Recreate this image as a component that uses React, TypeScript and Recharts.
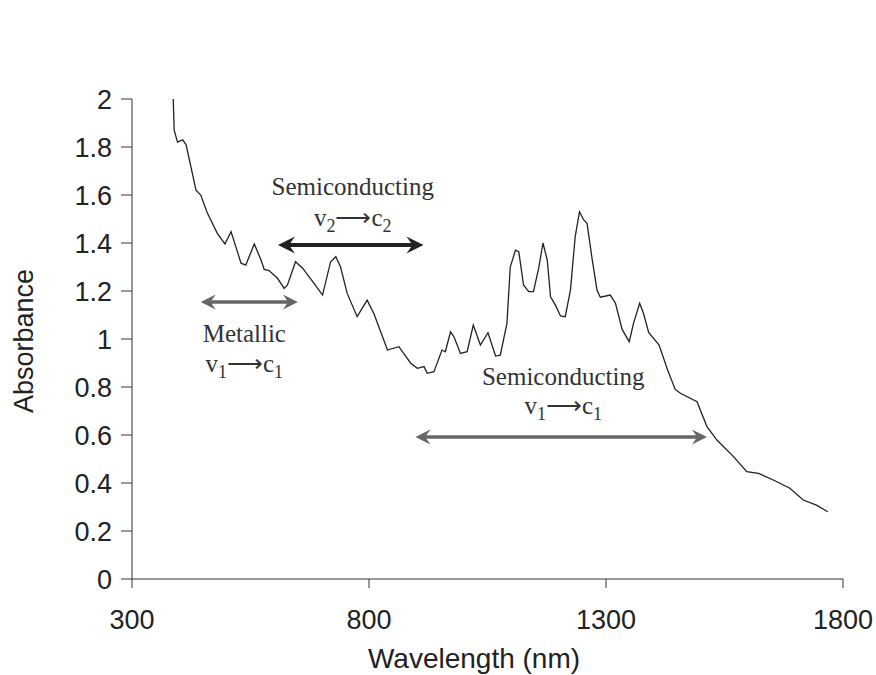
import { LineChart, Line, XAxis, YAxis, ReferenceLine, Label } from 'recharts';

// wavelength (nm)
const wavelengths = [
  387, 389, 396, 407, 414, 424, 435, 445, 459, 480,
  496, 509, 519, 530, 540, 558, 572, 579, 589, 607,
  621, 628, 645, 660, 684, 702, 719, 730, 740, 754,
  775, 796, 810, 839, 863, 888, 902, 916, 923, 937,
  954, 961, 972, 979, 993, 1007, 1020, 1035, 1051, 1067,
  1077, 1091, 1098, 1109, 1116, 1126, 1137, 1147, 1158, 1167,
  1176, 1183, 1193, 1204, 1214, 1225, 1235, 1244, 1253, 1260,
  1270, 1281, 1288, 1309, 1320, 1334, 1349, 1358, 1371, 1379,
  1390, 1412, 1430, 1446, 1457, 1492, 1513, 1534, 1569, 1597,
  1622, 1653, 1688, 1716, 1744, 1768,
];

const absorbance = [
  2.0, 1.87, 1.82, 1.83, 1.81, 1.72, 1.62, 1.6, 1.525, 1.44,
  1.396, 1.447, 1.385, 1.316, 1.308, 1.396, 1.33, 1.29, 1.285, 1.253,
  1.211, 1.225, 1.322, 1.295, 1.232, 1.183, 1.322, 1.343, 1.3, 1.19,
  1.093, 1.162, 1.107, 0.954, 0.968, 0.899, 0.878, 0.885, 0.857, 0.864,
  0.954, 0.947, 1.03, 1.01, 0.94, 0.947, 1.058, 0.975, 1.026, 0.929,
  0.933, 1.065, 1.3, 1.37, 1.364, 1.225, 1.197, 1.197, 1.295, 1.4,
  1.33, 1.176, 1.142, 1.096, 1.093, 1.204, 1.426, 1.53, 1.496, 1.482,
  1.343, 1.204, 1.174, 1.183, 1.149, 1.04, 0.989, 1.065, 1.149, 1.107,
  1.027, 0.975, 0.871, 0.79, 0.774, 0.739, 0.635, 0.579, 0.51, 0.447,
  0.44, 0.4125, 0.378, 0.329, 0.308, 0.28,
];

const xTicks = [300, 800, 1300, 1800];
const yTicks = [0, 0.2, 0.4, 0.6, 0.8, 1, 1.2, 1.4, 1.6, 1.8, 2];

// annotation arrows: [start nm, end nm, absorbance level]
const metallicArrow = [445, 650, 1.154];
const semiV2Arrow = [608, 915, 1.392];
const semiV1Arrow = [898, 1513, 0.592];

const data = wavelengths.map((wl, i) => ({ wl, a: absorbance[i] }));

const serif = "'Liberation Serif', 'Times New Roman', serif";
const sans = "'Liberation Sans', Arial, sans-serif";

const Transition = ({ x, y, n }: { x: number; y: number; n: string }) => (
  <text x={x} y={y} textAnchor="middle" fontFamily={serif} fontSize={25} fill="#333">
    <tspan>v</tspan>
    <tspan dy={6} fontSize={18}>{n}</tspan>
    <tspan dy={-6}>⟶c</tspan>
    <tspan dy={6} fontSize={18}>{n}</tspan>
  </text>
);

const makeArrow = (color: string, width: number, head: number, title: string, n: string, dy1: number, dy2: number, dx = 2) =>
  (props: any) => {
    const { x1, x2, y1 } = props;
    const hw = head * 0.5;
    const cx = (x1 + x2) / 2 + dx;
    return (
      <g>
        <line x1={x1 + head * 0.6} y1={y1} x2={x2 - head * 0.6} y2={y1} stroke={color} strokeWidth={width} />
        <polygon points={`${x1},${y1} ${x1 + head},${y1 - hw} ${x1 + head * 0.65},${y1} ${x1 + head},${y1 + hw}`} fill={color} />
        <polygon points={`${x2},${y1} ${x2 - head},${y1 - hw} ${x2 - head * 0.65},${y1} ${x2 - head},${y1 + hw}`} fill={color} />
        <text x={cx} y={y1 + dy1} textAnchor="middle" fontFamily={serif} fontSize={25} fill="#333">{title}</text>
        <Transition x={cx} y={y1 + dy2} n={n} />
      </g>
    );
  };

const tickStyle = { fontFamily: sans, fontSize: 27, fill: '#222' };

export default function App() {
  return (
    <div style={{ position: 'absolute', left: 0, top: 0, background: '#fff' }}>
      <LineChart width={876} height={675} data={data} margin={{ top: 99, right: 33, bottom: 6, left: 12 }}>
        <XAxis dataKey="wl" type="number" domain={[300, 1800]} ticks={xTicks} height={90}
          stroke="#333" tickSize={9} tickMargin={22} tick={tickStyle} interval={0}>
          <Label content={() => (
            <text x={474} y={668} textAnchor="middle" fontFamily={sans} fontSize={28} fill="#222">Wavelength (nm)</text>
          )} />
        </XAxis>
        <YAxis type="number" domain={[0, 2]} ticks={yTicks} width={120} stroke="#333"
          tickSize={11} tickMargin={9} tick={tickStyle} interval={0}>
          <Label content={() => (
            <text x={24} y={341} transform="rotate(-90, 24, 341)" textAnchor="middle" dominantBaseline="central"
              fontFamily={sans} fontSize={27} fill="#222">Absorbance</text>
          )} />
        </YAxis>
        <Line dataKey="a" type="linear" stroke="#222" strokeWidth={1.3} dot={false} isAnimationActive={false} />
        <ReferenceLine segment={[{ x: metallicArrow[0], y: metallicArrow[2] }, { x: metallicArrow[1], y: metallicArrow[2] }]}
          shape={makeArrow('#666', 3.5, 15, 'Metallic', '1', 40, 70, -5)} />
        <ReferenceLine segment={[{ x: semiV2Arrow[0], y: semiV2Arrow[2] }, { x: semiV2Arrow[1], y: semiV2Arrow[2] }]}
          shape={makeArrow('#222', 4, 17, 'Semiconducting', '2', -50, -19)} />
        <ReferenceLine segment={[{ x: semiV1Arrow[0], y: semiV1Arrow[2] }, { x: semiV1Arrow[1], y: semiV1Arrow[2] }]}
          shape={makeArrow('#666', 3.5, 15, 'Semiconducting', '1', -52, -23)} />
      </LineChart>
    </div>
  );
}
